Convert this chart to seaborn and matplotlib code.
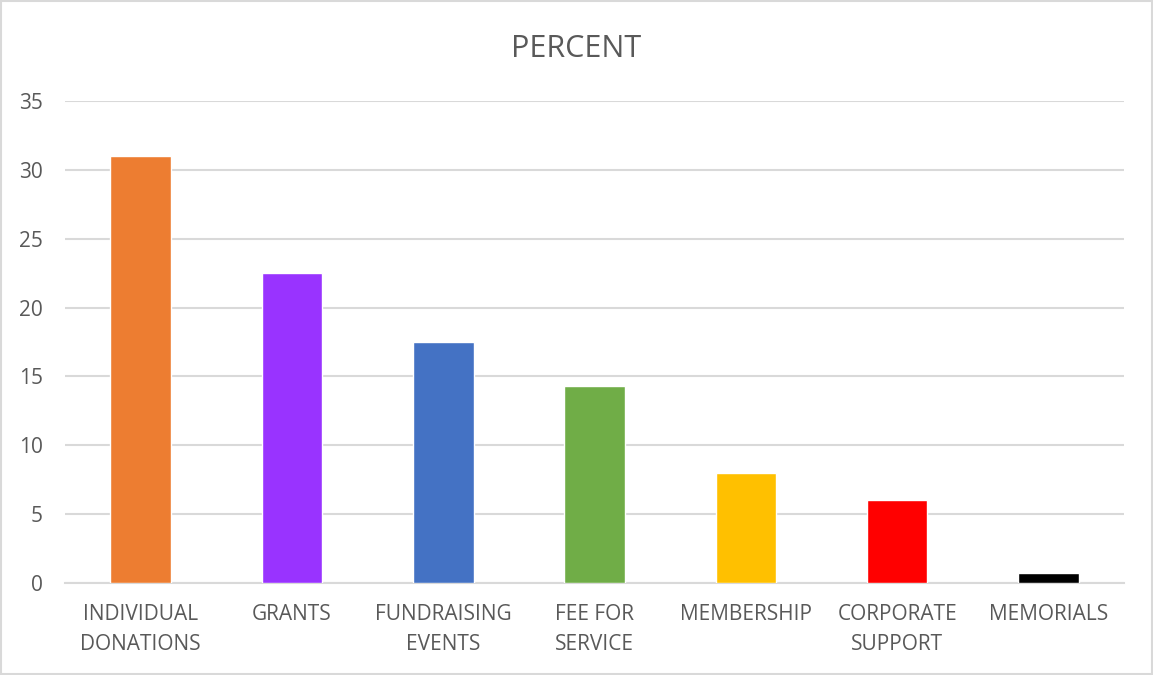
import pandas as pd
import matplotlib.pyplot as plt
import seaborn as sns

# Data
categories = ["INDIVIDUAL\nDONATIONS", "GRANTS", "FUNDRAISING\nEVENTS", "FEE FOR\nSERVICE",
              "MEMBERSHIP", "CORPORATE\nSUPPORT", "MEMORIALS"]
percent = [31.0, 22.5, 17.5, 14.3, 8.0, 6.0, 0.7]
bar_colors = ["#ED7D31", "#9933FF", "#4472C4", "#70AD47", "#FFC000", "#FF0000", "#000000"]
y_ticks = [0, 5, 10, 15, 20, 25, 30, 35]

df = pd.DataFrame({"category": categories, "percent": percent})

sns.set_style("white")
plt.rcParams['font.family'] = ['Open Sans', 'DejaVu Sans']
text_color = "#595959"
grid_color = "#D9D9D9"

fig = plt.figure(figsize=(11.53, 6.75), dpi=100)
ax = fig.add_axes([0.0564, 0.1363, 0.9186, 0.7141])

sns.barplot(data=df, x="category", y="percent", hue="category", palette=bar_colors,
            width=0.4, legend=False, saturation=1, ax=ax, zorder=3)

ax.set_ylim(0, 35)
ax.set_yticks(y_ticks)
ax.set_xlim(-0.5, len(categories) - 0.5)
ax.yaxis.grid(True, color=grid_color, linewidth=1.5, zorder=0)
ax.set_axisbelow(True)
for side in ["top", "right", "left"]:
    ax.spines[side].set_visible(False)
ax.spines["bottom"].set_color(grid_color)
ax.spines["bottom"].set_linewidth(1.5)
ax.tick_params(axis="both", length=0, labelsize=15, labelcolor=text_color)
ax.tick_params(axis="x", pad=15)
ax.tick_params(axis="y", pad=16)
for lbl in ax.get_xticklabels():
    lbl.set_linespacing(1.55)
ax.set_xlabel("")
ax.set_ylabel("")

fig.text(0.5, 0.927, "PERCENT", ha="center", va="center", fontsize=22, color=text_color)

# light border around the chart area
fig.patches.append(plt.Rectangle((0.001, 0.001), 0.998, 0.997, transform=fig.transFigure,
                                 fill=False, edgecolor=grid_color, linewidth=1.5))

plt.savefig("out.png", dpi=100)
